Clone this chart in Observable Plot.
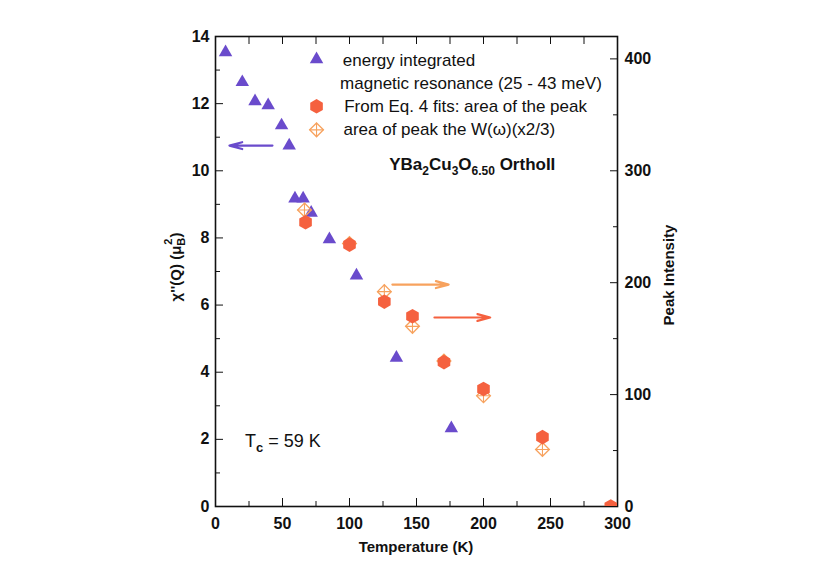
<!DOCTYPE html>
<html><head><meta charset="utf-8">
<script src="https://cdn.jsdelivr.net/npm/d3@7"></script>
<script src="https://cdn.jsdelivr.net/npm/@observablehq/plot@0.6"></script>
<style>body{margin:0;background:#fff} svg{display:block}</style>
</head><body><div id="chart"></div>
<script>
// Energy-integrated magnetic resonance (left axis, chi''(Q) in muB^2)
const resonanceT   = [7.5, 20, 29.5, 39.3, 49.3, 55, 59.3, 65.4, 71.4, 85, 105.2, 135, 176];
const resonanceChi = [13.53, 12.64, 12.07, 11.95, 11.35, 10.75, 9.17, 9.17, 8.75, 7.96, 6.88, 4.43, 2.33];
// From Eq. 4 fits: area of the peak (right axis, Peak Intensity)
const fitT    = [67.2, 100, 126, 147, 170.5, 200, 244, 295];
const fitPeak = [254, 234, 183, 170, 129, 105, 62, 0];
// Area of peak the W(omega) (x2/3) (right axis)
const wT    = [66.4, 100, 126, 147, 170.5, 200, 244];
const wPeak = [265, 235, 192, 161, 130, 99, 51];

// Axis ticks
const xMajor = [0, 50, 100, 150, 200, 250, 300];
const xMinor = [25, 75, 125, 175, 225, 275];
const xTop = [25, 50, 75, 100, 125, 150, 175, 200, 225, 250, 275];
const yMajor = [0, 2, 4, 6, 8, 10, 12, 14];
const yMinor = [1, 3, 5, 7, 9, 11, 13];
const rightMajor = [0, 100, 200, 300, 400];
const rightMinor = [50, 150, 250, 350];
const rightPerLeft = 30; // Peak Intensity units per chi'' unit

// Legend entries and annotation arrows (data units)
const legendSymbols = [
  {x: 75.4, y: 13.32, kind: "tri"},
  {x: 75.4, y: 11.92, kind: "hex"},
  {x: 75.4, y: 11.22, kind: "dia"}
];
const legendTexts = [
  {x: 95, y: 13.29, text: "energy integrated"},
  {x: 93, y: 12.61, text: "magnetic resonance (25 - 43 meV)"},
  {x: 96, y: 11.9, text: "From Eq. 4 fits: area of the peak"},
  {x: 95.5, y: 11.22, text: "area of peak the W(\u03c9)(x2/3)"}
];
const arrows = [
  {x1: 42.5, x2: 10.4, y: 10.75, color: "#6a4bcc"},
  {x1: 132, x2: 174, y: 6.61, color: "#f7a25e"},
  {x1: 163.4, x2: 205, y: 5.63, color: "#f5613f"}
];

const purple = "#6a4bcc", red = "#f5613f", orange = "#f7a25e";
const resonance = resonanceT.map((t, i) => ({t, v: resonanceChi[i]}));
const fits = fitT.map((t, i) => ({t, v: fitPeak[i] / rightPerLeft}));
const wpk = wT.map((t, i) => ({t, v: wPeak[i] / rightPerLeft}));

const M = {left: 215, right: 200, top: 36, bottom: 72};
const font = "'Liberation Sans', Arial, Helvetica, sans-serif";

const plot = Plot.plot({
  width: 817, height: 578,
  marginLeft: M.left, marginRight: M.right, marginTop: M.top, marginBottom: M.bottom,
  x: {domain: [0, 300]},
  y: {domain: [0, 14]},
  style: {fontFamily: font, fontSize: "16px", color: "#111", background: "#fff"},
  marks: [
    Plot.axisX({ticks: xMajor, tickSize: -8, tickPadding: 19, fontWeight: "bold", fontSize: 16, label: null}),
    Plot.axisX({ticks: xMinor, tickSize: -5, tickFormat: () => "", label: null}),
    Plot.axisX({anchor: "top", ticks: xTop, tickSize: -7, tickFormat: () => "", label: null}),
    Plot.axisY({ticks: yMajor, tickSize: -8, tickPadding: 14, fontWeight: "bold", fontSize: 16, label: null}),
    Plot.axisY({ticks: yMinor, tickSize: -5, tickFormat: () => "", label: null}),
    Plot.axisY({anchor: "right", ticks: rightMajor.map(v => v / rightPerLeft), tickFormat: d => String(Math.round(d * rightPerLeft)), tickSize: -8, tickPadding: 15, fontWeight: "bold", fontSize: 16, label: null}),
    Plot.axisY({anchor: "right", ticks: rightMinor.map(v => v / rightPerLeft), tickSize: -5, tickFormat: () => "", label: null}),
    Plot.frame({stroke: "#111", strokeWidth: 1.6}),
    Plot.dot(resonance, {x: "t", y: "v", symbol: "triangle", r: 5, fill: purple}),
    Plot.dot(wpk, {x: "t", y: "v", symbol: "diamond2", r: 6.2, stroke: orange, strokeWidth: 1.3, fill: "none"}),
    Plot.dot(wpk, {x: "t", y: "v", symbol: "plus", r: 4.6, stroke: orange, strokeWidth: 1.1}),
    Plot.dot(fits, {x: "t", y: "v", symbol: "hexagon", r: 6.3, fill: red, clip: true}),
    Plot.arrow(arrows, {x1: "x1", x2: "x2", y1: "y", y2: "y", stroke: "color", strokeWidth: 2.2, headLength: 9, headAngle: 30}),
    Plot.dot(legendSymbols.filter(d => d.kind === "tri"), {x: "x", y: "y", symbol: "triangle", r: 5, fill: purple}),
    Plot.dot(legendSymbols.filter(d => d.kind === "hex"), {x: "x", y: "y", symbol: "hexagon", r: 6.3, fill: red}),
    Plot.dot(legendSymbols.filter(d => d.kind === "dia"), {x: "x", y: "y", symbol: "diamond2", r: 6.2, stroke: orange, strokeWidth: 1.3, fill: "none"}),
    Plot.dot(legendSymbols.filter(d => d.kind === "dia"), {x: "x", y: "y", symbol: "plus", r: 4.6, stroke: orange, strokeWidth: 1.1}),
    Plot.text(legendTexts, {x: "x", y: "y", text: "text", textAnchor: "start", fontSize: 17, fill: "#111"})
  ]
});

const svg = d3.select(plot);
const sx = plot.scale("x"), sy = plot.scale("y");

// Compound formula title
const title = svg.append("text")
  .attr("x", sx.apply(130)).attr("y", sy.apply(10.0)).attr("text-anchor", "start")
  .attr("font-family", font).attr("font-size", 17).attr("font-weight", "bold").attr("fill", "#111");
[["YBa", 0], ["2", 1], ["Cu", 0], ["3", 1], ["O", 0], ["6.50", 1], [" OrthoII", 0]].forEach(([s, sub], i, arr) => {
  const prevSub = i > 0 ? arr[i - 1][1] : 0;
  const t = title.append("tspan").text(s);
  if (sub) t.attr("font-size", 12).attr("dy", 5);
  else if (prevSub) t.attr("dy", -5);
});

// Tc annotation
const tc = svg.append("text")
  .attr("x", sx.apply(22.4)).attr("y", sy.apply(1.77)).attr("text-anchor", "start")
  .attr("font-family", font).attr("font-size", 18).attr("fill", "#111");
tc.append("tspan").text("T");
tc.append("tspan").attr("font-size", 13).attr("dy", 5).attr("font-weight", "bold").text("c");
tc.append("tspan").attr("dy", -5).text(" = 59 K");

// Axis titles
const midX = M.left + (817 - M.left - M.right) / 2;
const midY = M.top + (578 - M.top - M.bottom) / 2;
svg.append("text")
  .attr("x", midX).attr("y", 578 - M.bottom + 46)
  .attr("text-anchor", "middle").attr("font-family", font).attr("font-size", 15).attr("font-weight", "bold").attr("fill", "#111")
  .text("Temperature (K)");

const yl = svg.append("text")
  .attr("transform", `translate(${M.left - 34},${midY - 4}) rotate(-90)`)
  .attr("text-anchor", "middle").attr("font-family", font).attr("font-size", 15).attr("font-weight", "bold").attr("fill", "#111");
yl.append("tspan").text("\u03c7''(Q) (\u03bc");
yl.append("tspan").attr("font-size", 11).attr("dy", 4).text("B");
yl.append("tspan").attr("font-size", 11).attr("dx", -7).attr("dy", -13).text("2");
yl.append("tspan").attr("dy", 9).attr("dx", 1).text(")");

svg.append("text")
  .attr("transform", `translate(${817 - M.right + 57},${midY + 4}) rotate(-90)`)
  .attr("text-anchor", "middle").attr("font-family", font).attr("font-size", 15).attr("font-weight", "bold").attr("fill", "#111")
  .text("Peak Intensity");

document.getElementById("chart").appendChild(plot);
</script>
</body></html>
